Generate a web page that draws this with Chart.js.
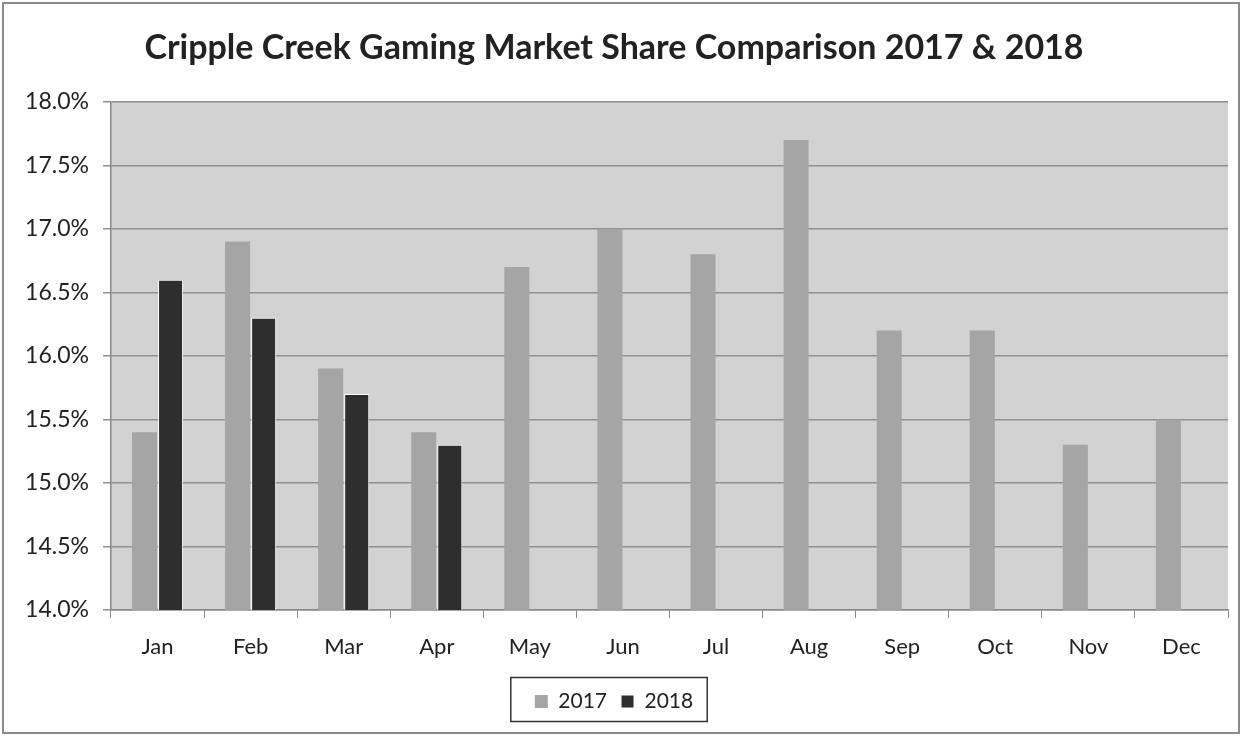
<!DOCTYPE html>
<html>
<head>
<meta charset="utf-8">
<script src="https://cdn.jsdelivr.net/npm/chart.js@4"></script>
<style>
  html, body { margin: 0; padding: 0; background: #fff; }
  #wrap { width: 1242px; height: 736px; }
</style>
</head>
<body>
<div id="wrap"><canvas id="myChart" width="1242" height="736"></canvas></div>
<script>
// market share per month, in percent
const months = ['Jan', 'Feb', 'Mar', 'Apr', 'May', 'Jun', 'Jul', 'Aug', 'Sep', 'Oct', 'Nov', 'Dec'];
const share2017 = [15.4, 16.9, 15.9, 15.4, 16.7, 17.0, 16.8, 17.7, 16.2, 16.2, 15.3, 15.5];
const share2018 = [16.6, 16.3, 15.7, 15.3, null, null, null, null, null, null, null, null];
const yTicks = [14.0, 14.5, 15.0, 15.5, 16.0, 16.5, 17.0, 17.5, 18.0];

const fontFam = 'Lato, "Open Sans", sans-serif';

// grey plot area, frame round the page and box round the legend
const decor = {
    id: 'decor',
    beforeDraw(chart) {
        const ctx = chart.ctx;
        const a = chart.chartArea;
        ctx.save();
        ctx.fillStyle = '#fff';
        ctx.fillRect(0, 0, chart.width, chart.height);
        ctx.fillStyle = '#d2d2d2';
        ctx.fillRect(a.left, a.top, a.right - a.left, a.bottom - a.top);
        ctx.strokeStyle = '#8a8a8a';
        ctx.lineWidth = 2;
        ctx.strokeRect(3, 3, chart.width - 6, chart.height - 6);
        ctx.restore();
    },
    afterDraw(chart) {
        const ctx = chart.ctx;
        const lg = chart.legend;
        const boxes = lg.legendHitBoxes;
        const l = Math.min(...boxes.map(b => b.left)) - 24;
        const r = Math.max(...boxes.map(b => b.left + b.width)) + 14;
        ctx.save();
        ctx.strokeStyle = '#333';
        ctx.lineWidth = 1.5;
        ctx.strokeRect(l, lg.top + 0.5, r - l, lg.height - 1);
        ctx.restore();
    }
};

new Chart(document.getElementById('myChart'), {
    type: 'bar',
    data: {
        labels: months,
        datasets: [
            {
                label: '2017',
                data: share2017,
                backgroundColor: '#a5a5a5',
                borderWidth: 0
            },
            {
                label: '2018',
                data: share2018,
                backgroundColor: '#2e2e2e',
                borderColor: '#ffffff',
                borderWidth: 1
            }
        ]
    },
    plugins: [decor],
    options: {
        responsive: false,
        animation: false,
        devicePixelRatio: 1,
        layout: { padding: { top: 18, right: 14, bottom: 14, left: 0 } },
        datasets: { bar: { categoryPercentage: 0.56, barPercentage: 0.96 } },
        scales: {
            x: {
                afterFit(scale) { scale.height = 67; },
                grid: { drawOnChartArea: false, drawTicks: true, tickLength: 8, color: '#888' },
                border: { color: '#888', width: 1.5 },
                ticks: { color: '#222', font: { family: fontFam, size: 22 }, padding: 16 }
            },
            y: {
                min: 14,
                max: 18,
                afterFit(scale) { scale.width = 111; },
                afterBuildTicks(scale) { scale.ticks = yTicks.map(v => ({ value: v })); },
                grid: { color: '#8f8f8f', lineWidth: 1.5, tickLength: 8 },
                border: { color: '#888', width: 1.5 },
                ticks: {
                    color: '#222',
                    font: { family: fontFam, size: 23 },
                    padding: 14,
                    callback: v => v.toFixed(1) + '%'
                }
            }
        },
        plugins: {
            title: {
                display: true,
                text: 'Cripple Creek Gaming Market Share Comparison 2017 & 2018',
                color: '#222',
                font: { family: fontFam, size: 34, weight: 'bold' },
                padding: { top: 10, bottom: 33 }
            },
            legend: {
                position: 'bottom',
                labels: {
                    color: '#222',
                    font: { family: fontFam, size: 21 },
                    boxWidth: 13,
                    boxHeight: 13,
                    padding: 14
                }
            },
            tooltip: { enabled: false }
        }
    }
});
</script>
</body>
</html>
